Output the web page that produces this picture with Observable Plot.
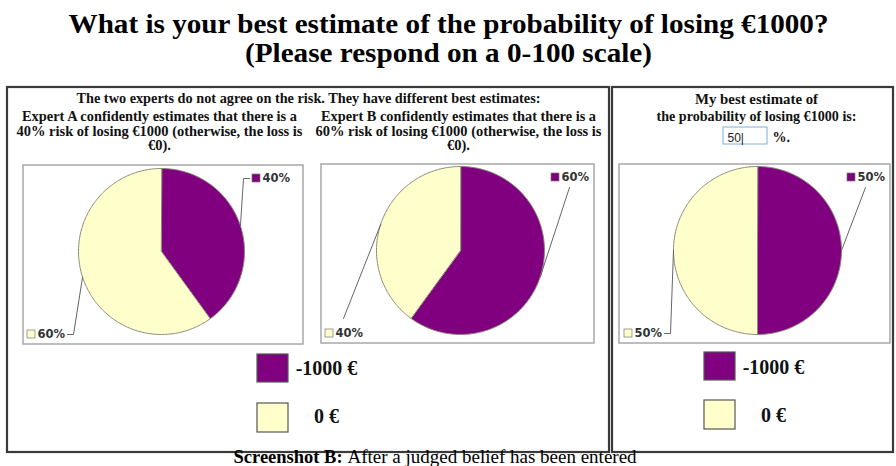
<!DOCTYPE html>
<html><head><meta charset="utf-8">
<script src="https://cdn.jsdelivr.net/npm/d3@7"></script>
<script src="https://cdn.jsdelivr.net/npm/@observablehq/plot@0.6"></script>
<style>html,body{margin:0;padding:0;background:#fff;overflow:hidden} svg{display:block}</style>
</head><body><div id="chart"></div>
<script>
// ---------- data ----------
const titleLines = ["What is your best estimate of the probability of losing €1000?", "(Please respond on a 0-100 scale)"];
const outcomes = ["-1000 €", "0 €"];
const outcomeColors = ["#800080", "#FFFFCC"];
const lossProbabilities = [40, 60, 50]; // Expert A, Expert B, my estimate (% chance of losing €1000)
const headerLeft = "The two experts do not agree on the risk. They have different best estimates:";
const expertTexts = [
  ["Expert A confidently estimates that there is a", "40% risk of losing €1000 (otherwise, the loss is", "€0)."],
  ["Expert B confidently estimates that there is a", "60% risk of losing €1000 (otherwise, the loss is", "€0)."]
];
const myTexts = ["My best estimate of", "the probability of losing €1000 is:"];
const enteredValue = "50";
const captionParts = ["Screenshot B:", "After a judged belief has been entered"];

// ---------- layout ----------
const W = 896, H = 466;
const serif = "'Liberation Serif', 'Times New Roman', serif";
const sans = "'DejaVu Sans', Verdana, sans-serif";
const panels = [{x1: 7, y1: 87, x2: 609, y2: 452}, {x1: 612, y1: 87, x2: 893, y2: 452}];
const pieLayout = [
  {cx: 161, cy: 251, r: 83, box: [23, 165, 303, 344], top: [252, 178], bot: [27, 334], modes: ["elbow", "elbow"]},
  {cx: 460, cy: 250, r: 84, box: [321, 164, 594, 343], top: [551, 177], bot: [325, 333], modes: ["diag", "diag"]},
  {cx: 757, cy: 250, r: 84, box: [619, 164, 890, 343], top: [847, 177], bot: [624, 333], modes: ["diag", "elbow"]}
];
const legendLayout = [
  {sx: 257, rows: [[354, 382], [403, 432]], base: [374, 422]},
  {sx: 704, rows: [[352, 380], [400, 429]], base: [373, 421]}
];

// ---------- derived geometry ----------
const slicePts = [], labels = [], leaders = [];
lossProbabilities.forEach((p, i) => {
  const L = pieLayout[i];
  const fr = [p / 100, 1 - p / 100];
  let a0 = 0;
  fr.forEach((f, j) => {
    const a1 = a0 + f * 2 * Math.PI;
    const key = `s${i}-${j}`;
    slicePts.push({key, x: L.cx, y: L.cy, color: outcomeColors[j]});
    const n = Math.max(2, Math.ceil((a1 - a0) / (Math.PI / 180)));
    for (let k = 0; k <= n; k++) {
      const a = a0 + (a1 - a0) * k / n;
      slicePts.push({key, x: L.cx + L.r * Math.sin(a), y: L.cy - L.r * Math.cos(a), color: outcomeColors[j]});
    }
    const m = (a0 + a1) / 2;
    const E = {x: L.cx + L.r * Math.sin(m), y: L.cy - L.r * Math.cos(m)};
    const [lx, ly] = j === 0 ? L.top : L.bot;
    labels.push({lx, ly, text: `${Math.round(f * 100)}%`, color: outcomeColors[j]});
    const lkey = `l${i}-${j}`;
    if (L.modes[j] === "elbow") {
      const anchorX = E.x < lx ? lx - 3 : lx + 40;
      const dir = Math.sign(E.x - anchorX);
      [[E.x, E.y], [anchorX + 6 * dir, ly], [anchorX, ly]].forEach(([x, y]) => leaders.push({key: lkey, x, y}));
    } else {
      const endY = ly + (E.y > ly ? 10 : -15);
      [[E.x, E.y], [lx + 18, endY]].forEach(([x, y]) => leaders.push({key: lkey, x, y}));
    }
    a0 = a1;
  });
});

const boxes = pieLayout.map(L => ({x1: L.box[0], y1: L.box[1], x2: L.box[2], y2: L.box[3]}));
const legendSquares = [], legendTexts = [];
legendLayout.forEach(G => {
  outcomes.forEach((o, j) => {
    legendSquares.push({x1: G.sx, x2: G.sx + 31, y1: G.rows[j][0], y2: G.rows[j][1], color: outcomeColors[j]});
    legendTexts.push({x: G.sx + 31 + 38, y: G.base[j], text: o});
  });
});

// panel texts with their reference widths
const headerTexts = [{x: 308, y: 102, text: headerLeft, w: 464}];
expertTexts.forEach((lines, i) => {
  const cx = [159, 458][i];
  [120, 135, 149].forEach((y, k) => headerTexts.push({x: cx, y, text: lines[k], w: [275, 286, 23][k]}));
});
myTexts.forEach((t, k) => headerTexts.push({x: 756, y: [103, 120][k], text: t, w: [123, 200][k]}));

const bold = {fontFamily: serif, fontWeight: "bold", lineAnchor: "bottom", fill: "#111"};

const chart = Plot.plot({
  width: W, height: H, margin: 0,
  x: {domain: [0, W], range: [0, W], axis: null},
  y: {domain: [0, H], range: [0, H], axis: null},
  color: {type: "identity"},
  style: {background: "#fff"},
  marks: [
    // panels
    Plot.rect(panels, {x1: "x1", x2: "x2", y1: "y1", y2: "y2", fill: "#fff", stroke: "#3a3a3a", strokeWidth: 2.2}),
    // chart boxes
    Plot.rect(boxes, {x1: "x1", x2: "x2", y1: "y1", y2: "y2", fill: "#fff", stroke: "#a8a8a8", strokeWidth: 1.5}),
    // pie slices
    Plot.line(slicePts, {x: "x", y: "y", z: "key", fill: "color", stroke: "#8a8a7a", strokeWidth: 1, curve: "linear-closed"}),
    // leaders
    Plot.line(leaders, {x: "x", y: "y", z: "key", stroke: "#666", strokeWidth: 1}),
    // data label swatches
    Plot.rect(labels, {x1: d => d.lx, x2: d => d.lx + 8, y1: d => d.ly - 4, y2: d => d.ly + 4, fill: "color", stroke: "#777", strokeWidth: 0.7}),
    Plot.text(labels, {x: d => d.lx + 10, y: "ly", text: "text", textAnchor: "start", fontFamily: sans, fontWeight: "bold", fontSize: 11.5, fill: "#333"}),
    // legends
    Plot.rect(legendSquares, {x1: "x1", x2: "x2", y1: "y1", y2: "y2", fill: "color", stroke: "#555", strokeWidth: 1.2}),
    Plot.text(legendTexts, {x: "x", y: "y", text: "text", ...bold, fontSize: 20}),
    // titles
    Plot.text(titleLines, {x: 448, y: (d, i) => [32, 61][i], text: d => d, ...bold, fontSize: 28, fill: "#000"}),
    // panel texts
    Plot.text(headerTexts, {x: "x", y: "y", text: "text", ...bold, fontSize: 14}),
    // input box
    Plot.rect([enteredValue], {x1: 723, x2: 767, y1: 127, y2: 144, fill: "#fff", stroke: "#7fb0e0", strokeWidth: 1}),
    Plot.text([enteredValue + "|"], {x: 727, y: 141, text: d => d, textAnchor: "start", lineAnchor: "bottom", fontFamily: "'Liberation Sans', Arial, sans-serif", fontSize: 12, fill: "#222"}),
    Plot.text(["%."], {x: 772, y: 141, text: d => d, textAnchor: "start", ...bold, fontSize: 14}),
    // caption
    Plot.text([captionParts[0]], {x: 233, y: 462, text: d => d, textAnchor: "start", ...bold, fontSize: 18.5, fill: "#000"}),
    Plot.text([captionParts[1]], {x: 347, y: 462, text: d => d, textAnchor: "start", fontFamily: serif, lineAnchor: "bottom", fontSize: 19, fill: "#000"})
  ]
});

// fit text widths to the reference
chart.querySelectorAll("text").forEach(t => {
  const i = titleLines.indexOf(t.textContent);
  if (i >= 0) { t.setAttribute("textLength", [760, 407][i]); t.setAttribute("lengthAdjust", "spacingAndGlyphs"); }
  const h = headerTexts.find(d => d.text === t.textContent);
  if (h) { t.setAttribute("textLength", h.w); t.setAttribute("lengthAdjust", "spacingAndGlyphs"); }
});
document.getElementById("chart").append(chart);
</script>
</body></html>
